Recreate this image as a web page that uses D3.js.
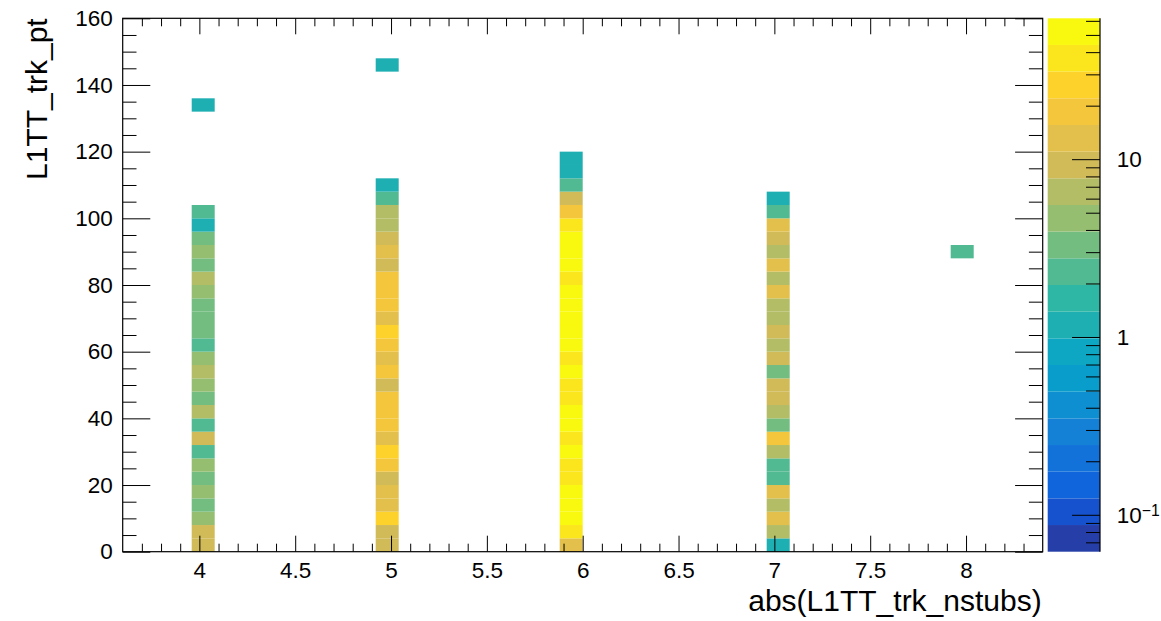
<!DOCTYPE html>
<html>
<head>
<meta charset="utf-8">
<script src="https://cdn.jsdelivr.net/npm/d3@7"></script>
<style>
  html, body { margin: 0; padding: 0; background: #fff; }
  svg { display: block; font-family: "Liberation Sans", Arial, Helvetica, sans-serif; }
</style>
</head>
<body>
<svg id="chart" width="1161" height="621"></svg>
<script>
// ---- histogram binning ----
const xMin = 3.6, xMax = 8.4, xBinWidth = 0.12;
const yMin = 0, yMax = 160, yBinWidth = 4;

// nstubs values and the lower edge of the x bin each one falls in
const nstubs = [4, 5, 6, 7, 8];
const nstubsBinLow = [3.96, 4.92, 5.88, 6.96, 7.92];

// entries per 4 GeV pt bin, starting at pt = 0
const countsN4 = [9, 8, 4, 3, 5, 3, 4, 2, 8, 2, 6, 3, 4, 7, 4, 2, 3, 3, 3, 4, 6, 3, 4, 3, 1, 2,
                  0, 0, 0, 0, 0, 0, 0, 1];
const countsN5 = [10, 9, 25, 14, 13, 10, 18, 26, 13, 18, 19, 17, 9, 18, 14, 17, 24, 13, 18, 19, 17, 10, 13, 9, 6, 6, 2, 1,
                  0, 0, 0, 0, 0, 0, 0, 0, 1];
const countsN6 = [13, 38, 50, 55, 52, 40, 42, 48, 41, 53, 57, 43, 39, 49, 42, 55, 60, 62, 58, 51, 40, 54, 56, 47, 36, 18, 9, 2, 1, 1];
const countsN7 = [1, 6, 13, 7, 12, 2, 2, 6, 16, 3, 6, 8, 10, 3, 9, 6, 8, 7, 6, 12, 7, 13, 6, 9, 12, 2, 1];
const countsN8 = [0, 0, 0, 0, 0, 0, 0, 0, 0, 0, 0, 0, 0, 0, 0, 0, 0, 0, 0, 0, 0, 0, 2];
const countsByColumn = [countsN4, countsN5, countsN6, countsN7, countsN8];

// axis ticks
const xTickValues = [4, 4.5, 5, 5.5, 6, 6.5, 7, 7.5, 8];
const yTickValues = [0, 20, 40, 60, 80, 100, 120, 140, 160];
const zTickValues = [0.1, 1, 10];
const zMinorValues = [0.07, 0.08, 0.09, 0.2, 0.3, 0.4, 0.5, 0.6, 0.7, 0.8, 0.9,
                      2, 3, 4, 5, 6, 7, 8, 9, 20, 30, 40, 50, 60];

const xTitle = "abs(L1TT_trk_nstubs)";
const yTitle = "L1TT_trk_pt";

// kBird palette definition
const birdStops = [0.0000, 0.1250, 0.2500, 0.3750, 0.5000, 0.6250, 0.7500, 0.8750, 1.0000];
const birdRed   = [0.2082, 0.0592, 0.0780, 0.0232, 0.1802, 0.5301, 0.8186, 0.9956, 0.9764];
const birdGreen = [0.1664, 0.3599, 0.5041, 0.6419, 0.7178, 0.7492, 0.7328, 0.7862, 0.9832];
const birdBlue  = [0.5293, 0.8684, 0.8385, 0.7914, 0.6425, 0.4662, 0.3499, 0.1968, 0.0539];
const nPaletteColors = 255;
const nContours = 20;

// ---- layout ----
const frame = { left: 122.7, right: 1042.7, top: 18.3, bottom: 551.7 };
const zbar = { left: 1047.7, right: 1100 };
const labelSize = 22.5;
const titleSize = 30;

const svg = d3.select("#chart");

const x = d3.scaleLinear().domain([xMin, xMax]).range([frame.left, frame.right]);
const y = d3.scaleLinear().domain([yMin, yMax]).range([frame.bottom, frame.top]);

const zMax = d3.max(countsByColumn.flat());
const zMin = 0.001 * zMax;
const z = d3.scaleLog().domain([zMin, zMax]).range([frame.bottom, frame.top]);

// gradient colour table, built segment by segment
function buildPalette(n) {
  const cols = [];
  for (let g = 1; g < birdStops.length; g++) {
    const nc = Math.floor(n * birdStops[g]) - Math.floor(n * birdStops[g - 1]);
    for (let c = 0; c < nc; c++) {
      const r = birdRed[g - 1] + c * (birdRed[g] - birdRed[g - 1]) / nc;
      const gg = birdGreen[g - 1] + c * (birdGreen[g] - birdGreen[g - 1]) / nc;
      const b = birdBlue[g - 1] + c * (birdBlue[g] - birdBlue[g - 1]) / nc;
      cols.push(d3.rgb(Math.round(r * 255), Math.round(gg * 255), Math.round(b * 255)).formatHex());
    }
  }
  return cols;
}
const palette = buildPalette(nPaletteColors);
const contourColor = i => palette[Math.floor((i + 0.99) * nPaletteColors / nContours)];

const lzMin = Math.log10(zMin), lzMax = Math.log10(zMax);
function contourIndex(v) {
  const i = Math.floor(0.01 + (Math.log10(v) - lzMin) * nContours / (lzMax - lzMin));
  return Math.max(0, Math.min(nContours - 1, i));
}

// ---- cells ----
const cells = [];
countsByColumn.forEach((col, ci) => {
  col.forEach((v, k) => {
    if (v > 0) cells.push({ x0: nstubsBinLow[ci], y0: k * yBinWidth, v });
  });
});

svg.append("g").selectAll("rect")
  .data(cells)
  .join("rect")
  .attr("x", d => x(d.x0))
  .attr("width", d => x(d.x0 + xBinWidth) - x(d.x0))
  .attr("y", d => y(d.y0 + yBinWidth))
  .attr("height", d => y(d.y0) - y(d.y0 + yBinWidth))
  .attr("fill", d => contourColor(contourIndex(d.v)));

// ---- axes ----
const xMinor = d3.range(37, 84).map(v => v / 10).filter(v => Math.abs(v * 2 - Math.round(v * 2)) > 1e-6);
const yMinor = d3.range(5, 160, 5).filter(v => v % 20 !== 0);

function styleAxis(g) {
  g.select(".domain").remove();
  g.selectAll("line").attr("stroke", "#000").attr("stroke-width", 1);
  g.selectAll("text").attr("fill", "#000").attr("font-size", labelSize)
    .attr("font-family", "'Liberation Sans', Arial, sans-serif");
}

const xMajorLen = 16, xMinorLen = 8, yMajorLen = 27.6, yMinorLen = 13.8;

// bottom
svg.append("g").attr("transform", `translate(0,${frame.bottom})`)
  .call(d3.axisBottom(x).tickValues(xTickValues).tickSizeInner(-xMajorLen).tickSizeOuter(0)
        .tickPadding(10).tickFormat(d3.format("")))
  .call(styleAxis);
svg.append("g").attr("transform", `translate(0,${frame.bottom})`)
  .call(d3.axisBottom(x).tickValues(xMinor).tickSizeInner(-xMinorLen).tickSizeOuter(0).tickFormat(""))
  .call(styleAxis);
// top
svg.append("g").attr("transform", `translate(0,${frame.top})`)
  .call(d3.axisTop(x).tickValues(xTickValues).tickSizeInner(-xMajorLen).tickSizeOuter(0).tickFormat(""))
  .call(styleAxis);
svg.append("g").attr("transform", `translate(0,${frame.top})`)
  .call(d3.axisTop(x).tickValues(xMinor).tickSizeInner(-xMinorLen).tickSizeOuter(0).tickFormat(""))
  .call(styleAxis);
// left
svg.append("g").attr("transform", `translate(${frame.left},0)`)
  .call(d3.axisLeft(y).tickValues(yTickValues).tickSizeInner(-yMajorLen).tickSizeOuter(0)
        .tickPadding(10).tickFormat(d3.format("")))
  .call(styleAxis);
svg.append("g").attr("transform", `translate(${frame.left},0)`)
  .call(d3.axisLeft(y).tickValues(yMinor).tickSizeInner(-yMinorLen).tickSizeOuter(0).tickFormat(""))
  .call(styleAxis);
// right
svg.append("g").attr("transform", `translate(${frame.right},0)`)
  .call(d3.axisRight(y).tickValues(yTickValues).tickSizeInner(-yMajorLen).tickSizeOuter(0).tickFormat(""))
  .call(styleAxis);
svg.append("g").attr("transform", `translate(${frame.right},0)`)
  .call(d3.axisRight(y).tickValues(yMinor).tickSizeInner(-yMinorLen).tickSizeOuter(0).tickFormat(""))
  .call(styleAxis);

// frame
svg.append("rect")
  .attr("x", frame.left).attr("y", frame.top)
  .attr("width", frame.right - frame.left).attr("height", frame.bottom - frame.top)
  .attr("fill", "none").attr("stroke", "#000").attr("stroke-width", 1.2);

// ---- colour bar ----
const bandEdges = d3.range(nContours + 1).map(i => Math.pow(10, lzMin + i * (lzMax - lzMin) / nContours));
svg.append("g").selectAll("rect")
  .data(d3.range(nContours))
  .join("rect")
  .attr("x", zbar.left)
  .attr("width", zbar.right - zbar.left)
  .attr("y", i => z(bandEdges[i + 1]))
  .attr("height", i => z(bandEdges[i]) - z(bandEdges[i + 1]))
  .attr("fill", i => contourColor(i));

const zAxisG = svg.append("g").attr("transform", `translate(${zbar.right},0)`)
  .call(d3.axisRight(z).tickValues(zTickValues).tickSizeInner(-28).tickSizeOuter(0).tickPadding(16)
        .tickFormat(""));
zAxisG.select(".domain").remove();
zAxisG.selectAll("line").attr("stroke", "#000");
svg.append("g").attr("transform", `translate(${zbar.right},0)`)
  .call(d3.axisRight(z).tickValues(zMinorValues).tickSizeInner(-14).tickSizeOuter(0).tickFormat(""))
  .call(g => { g.select(".domain").remove(); g.selectAll("line").attr("stroke", "#000"); });
svg.append("line")
  .attr("x1", zbar.right).attr("x2", zbar.right)
  .attr("y1", frame.top).attr("y2", frame.bottom)
  .attr("stroke", "#000").attr("stroke-width", 1.2);

// colour bar labels: 10^-1, 1, 10
const zLabels = svg.append("g")
  .attr("font-size", labelSize).attr("fill", "#000");
zTickValues.forEach(v => {
  const t = zLabels.append("text")
    .attr("x", zbar.right + 16.7)
    .attr("y", z(v))
    .attr("dy", "0.36em");
  const e = Math.round(Math.log10(v));
  if (e === 0) t.text("1");
  else if (e === 1) t.text("10");
  else {
    t.append("tspan").text("10");
    t.append("tspan").attr("dy", "-0.45em").attr("font-size", labelSize * 0.7).text("\u2212" + (-e));
  }
});

// ---- titles ----
svg.append("text")
  .attr("x", frame.right - 1)
  .attr("y", 610.5)
  .attr("text-anchor", "end")
  .attr("font-size", titleSize)
  .attr("fill", "#000")
  .text(xTitle);

svg.append("text")
  .attr("transform", `translate(47,${frame.top}) rotate(-90)`)
  .attr("text-anchor", "end")
  .attr("font-size", titleSize)
  .attr("fill", "#000")
  .text(yTitle);
</script>
</body>
</html>
